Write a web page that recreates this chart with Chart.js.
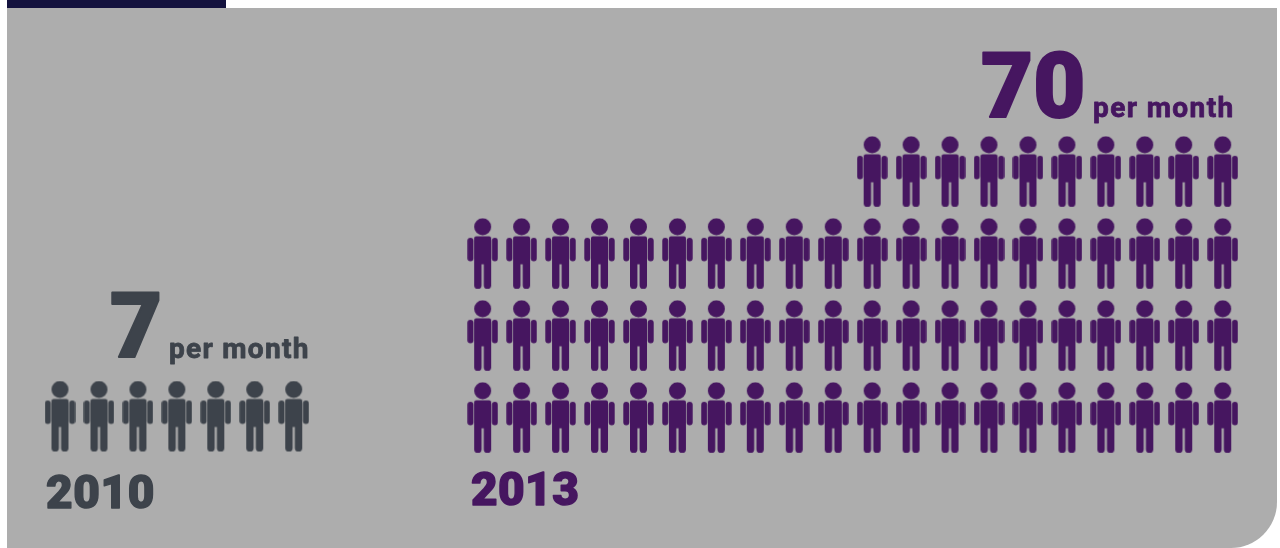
<!DOCTYPE html>
<html>
  <head>
    <meta charset="utf-8">
    <title>per month</title>
    <script src="https://cdn.jsdelivr.net/npm/chart.js@4"></script>
    <style>
      html, body { margin: 0; padding: 0; background: #ffffff; }
      canvas { display: block; }
    </style>
  </head>
  <body>
    <canvas id="myChart" width="1280" height="548"></canvas>
    <script>
      const years = ['2010', '2013'];
      const perMonth = [7, 70];
      // people per row, top row first, rows are right aligned
      const rows2010 = [7];
      const rows2013 = [10, 20, 20, 20];
      const unitLabel = 'per month';

      const GREY = '#3d434b';
      const PURPLE = '#461660';
      const PANEL = '#adadad';
      const NAVY = '#14123e';

      const COL_W = 38.95;
      const ROW_H = 82;

      // one person, 31 x 72
      function makePerson(color) {
        const c = document.createElement('canvas');
        c.width = 31;
        c.height = 72;
        const g = c.getContext('2d');
        g.fillStyle = color;
        g.beginPath();
        g.arc(15.5, 9, 8.5, 0, Math.PI * 2);
        g.fill();
        g.beginPath();
        g.roundRect(7, 18.5, 17, 28, 2);       // body
        g.roundRect(7, 44, 7.4, 27, [0, 0, 3.6, 3.6]);    // legs
        g.roundRect(16.6, 44, 7.4, 27, [0, 0, 3.6, 3.6]);
        g.roundRect(0.3, 20, 6, 23.5, 3);      // arms
        g.roundRect(24.7, 20, 6, 23.5, 3);
        g.fill();
        return c;
      }

      // rows -> points in column/row units; lastCol and firstRow place the group
      function buildPoints(rows, lastCol, firstRow) {
        const pts = [];
        rows.forEach(function(n, r) {
          for (let i = 0; i < n; i++) {
            pts.push({ x: lastCol - i, y: firstRow + r });
          }
        });
        return pts;
      }

      const panelPlugin = {
        id: 'panel',
        beforeDraw: function(chart) {
          const ctx = chart.ctx;
          ctx.save();
          ctx.fillStyle = PANEL;
          ctx.beginPath();
          ctx.roundRect(7, 8, 1270, 540, [0, 0, 46, 0]);
          ctx.fill();
          ctx.fillStyle = NAVY;
          ctx.fillRect(7, 0, 219, 8);
          ctx.restore();
        }
      };

      // stroke on top of the fill gives the heavier, rounded letter shapes
      function text(ctx, str, x, y, font, color, spacing, weight) {
        ctx.font = font;
        ctx.fillStyle = color;
        ctx.strokeStyle = color;
        ctx.lineJoin = 'round';
        ctx.lineWidth = weight;
        ctx.letterSpacing = spacing || '0px';
        ctx.fillText(str, x, y);
        ctx.strokeText(str, x, y);
      }

      const labelsPlugin = {
        id: 'labels',
        afterDatasetsDraw: function(chart) {
          const ctx = chart.ctx;
          ctx.save();
          ctx.textBaseline = 'alphabetic';
          ctx.textAlign = 'left';
          const big = '900 90px Roboto';
          const small = '700 28px Roboto';
          const year = '900 46px Roboto';
          text(ctx, String(perMonth[0]), 110, 357, big, GREY, '0px', 2);
          text(ctx, unitLabel, 169, 358, small, GREY, '1.3px', 0.8);
          text(ctx, years[0], 46, 508, year, GREY, '0.6px', 1.4);
          text(ctx, String(perMonth[1]), 981, 117, big, PURPLE, '0px', 2);
          text(ctx, unitLabel, 1093, 117, small, PURPLE, '1.4px', 0.8);
          text(ctx, years[1], 471, 505, year, PURPLE, '0.4px', 1.4);
          ctx.restore();
        }
      };

      const ctx = document.getElementById('myChart').getContext('2d');
      const myChart = new Chart(ctx, {
        type: 'scatter',
        data: {
          datasets: [
            {
              label: years[0],
              data: buildPoints(rows2010, 293.7 / COL_W, 416.5 / ROW_H),
              pointStyle: makePerson(GREY),
              pointRadius: 15
            },
            {
              label: years[1],
              data: buildPoints(rows2013, 1222.7 / COL_W, 171.8 / ROW_H),
              pointStyle: makePerson(PURPLE),
              pointRadius: 15
            }
          ]
        },
        options: {
          responsive: false,
          animation: false,
          layout: { padding: 0, autoPadding: false },
          plugins: { legend: { display: false }, tooltip: { enabled: false } },
          scales: {
            x: { type: 'linear', display: false, min: 0, max: 1280 / COL_W },
            y: { type: 'linear', display: false, reverse: true, min: 0, max: 548 / ROW_H }
          }
        },
        plugins: [panelPlugin, labelsPlugin]
      });
    </script>
  </body>
</html>
